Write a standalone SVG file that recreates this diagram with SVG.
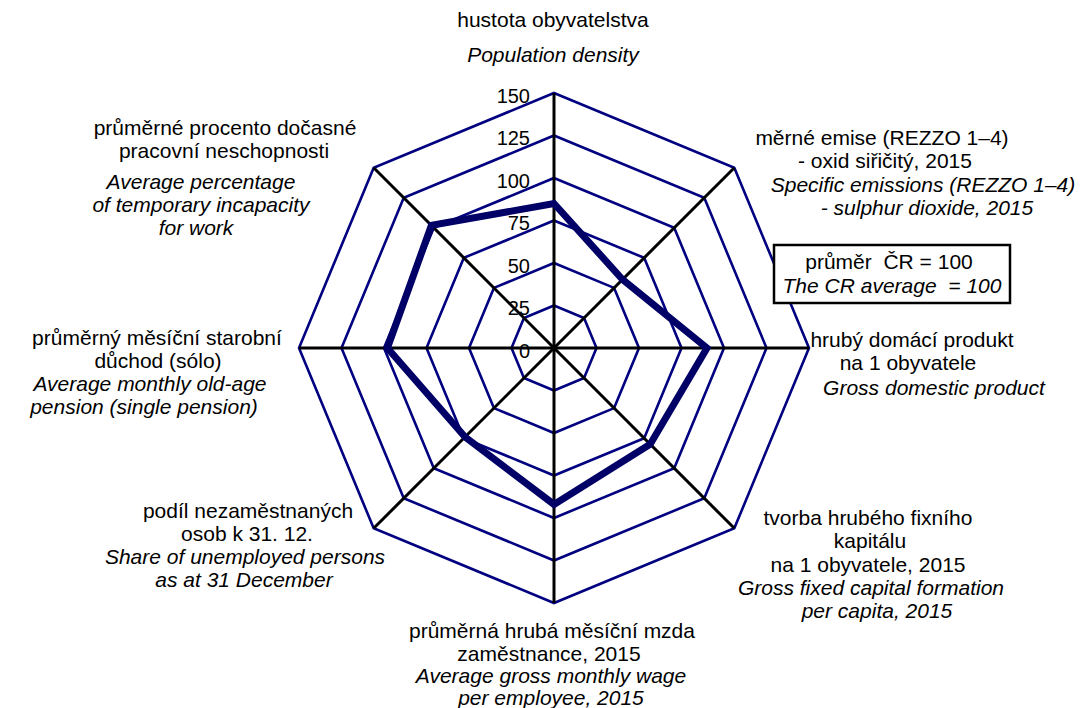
<svg xmlns="http://www.w3.org/2000/svg" width="1080" height="708" viewBox="0 0 1080 708">
<style>
.ring{fill:none;stroke:#000080;stroke-width:2.6;stroke-linejoin:miter}
.axis{stroke:#000;stroke-width:3}
.data{fill:none;stroke:#000066;stroke-width:7;stroke-linejoin:miter}
text{font-family:"Liberation Sans",Arial,sans-serif;font-size:21px;fill:#000;white-space:pre}
.i{font-style:italic}
.tick{font-size:20px;text-anchor:end}
.c{text-anchor:middle}
</style>
<rect width="1080" height="708" fill="#fff"/>
<g id="grid" transform="translate(554,348)">
<polygon class="ring" points="0,-42.5 30.05,-30.05 42.5,0 30.05,30.05 0,42.5 -30.05,30.05 -42.5,0 -30.05,-30.05"/>
<polygon class="ring" points="0,-85 60.1,-60.1 85,0 60.1,60.1 0,85 -60.1,60.1 -85,0 -60.1,-60.1"/>
<polygon class="ring" points="0,-127.5 90.16,-90.16 127.5,0 90.16,90.16 0,127.5 -90.16,90.16 -127.5,0 -90.16,-90.16"/>
<polygon class="ring" points="0,-170 120.21,-120.21 170,0 120.21,120.21 0,170 -120.21,120.21 -170,0 -120.21,-120.21"/>
<polygon class="ring" points="0,-212.5 150.26,-150.26 212.5,0 150.26,150.26 0,212.5 -150.26,150.26 -212.5,0 -150.26,-150.26"/>
<polygon class="ring" points="0,-255 180.31,-180.31 255,0 180.31,180.31 0,255 -180.31,180.31 -255,0 -180.31,-180.31"/>
</g>
<g id="axes" transform="translate(554,348)">
<line class="axis" x1="0" y1="0" x2="0" y2="-255"/>
<line class="axis" x1="0" y1="0" x2="180.31" y2="-180.31"/>
<line class="axis" x1="0" y1="0" x2="255" y2="0"/>
<line class="axis" x1="0" y1="0" x2="180.31" y2="180.31"/>
<line class="axis" x1="0" y1="0" x2="0" y2="255"/>
<line class="axis" x1="0" y1="0" x2="-180.31" y2="180.31"/>
<line class="axis" x1="0" y1="0" x2="-255" y2="0"/>
<line class="axis" x1="0" y1="0" x2="-180.31" y2="-180.31"/>
</g>
<g id="series" transform="translate(554,348)">
<polygon class="data" points="0,-144.5 68.52,-68.52 153,0 96.17,96.17 0,156.4 -88.95,88.95 -166.6,0 -122.61,-122.61"/>
</g>
<g id="ticks">
<text class="tick" x="530" y="102.5">150</text>
<text class="tick" x="530" y="145">125</text>
<text class="tick" x="530" y="187.5">100</text>
<text class="tick" x="530" y="230">75</text>
<text class="tick" x="530" y="272.5">50</text>
<text class="tick" x="530" y="315">25</text>
<text class="tick" x="530" y="357.5">0</text>
</g>
<g id="label-top">
<text class="c" x="553" y="27">hustota obyvatelstva</text>
<text class="c i" x="553" y="62">Population density</text>
</g>
<g id="label-ne">
<text class="c" x="882" y="145">měrné emise (REZZO 1–4)</text>
<text class="c" x="885" y="168">- oxid siřičitý, 2015</text>
<text class="c i" x="923" y="192">Specific emissions (REZZO 1–4)</text>
<text class="c i" x="927" y="215">- sulphur dioxide, 2015</text>
</g>
<g id="legend-box">
<rect x="774" y="245" width="236" height="58" fill="#fff" stroke="#000" stroke-width="2.5"/>
<text class="c" x="889" y="269">průměr  ČR = 100</text>
<text class="c i" x="892" y="293">The CR average  = 100</text>
</g>
<g id="label-e">
<text class="c" x="912" y="347">hrubý domácí produkt</text>
<text class="c" x="908" y="370">na 1 obyvatele</text>
<text class="c i" x="934" y="395">Gross domestic product</text>
</g>
<g id="label-se">
<text class="c" x="868" y="525">tvorba hrubého fixního</text>
<text class="c" x="870" y="548">kapitálu</text>
<text class="c" x="868" y="572">na 1 obyvatele, 2015</text>
<text class="c i" x="871" y="595">Gross fixed capital formation</text>
<text class="c i" x="877" y="618">per capita, 2015</text>
</g>
<g id="label-s">
<text class="c" x="552" y="638">průměrná hrubá měsíční mzda</text>
<text class="c" x="549" y="661">zaměstnance, 2015</text>
<text class="c i" x="551" y="683">Average gross monthly wage</text>
<text class="c i" x="551" y="705">per employee, 2015</text>
</g>
<g id="label-sw">
<text class="c" x="248" y="518">podíl nezaměstnaných</text>
<text class="c" x="247" y="541">osob k 31. 12.</text>
<text class="c i" x="245" y="564">Share of unemployed persons</text>
<text class="c i" x="244" y="587">as at 31 December</text>
</g>
<g id="label-w">
<text class="c" x="157" y="345">průměrný měsíční starobní</text>
<text class="c" x="158" y="368">důchod (sólo)</text>
<text class="c i" x="150" y="391">Average monthly old-age</text>
<text class="c i" x="144" y="414">pension (single pension)</text>
</g>
<g id="label-nw">
<text class="c" x="225" y="135">průměrné procento dočasné</text>
<text class="c" x="224" y="158">pracovní neschopnosti</text>
<text class="c i" x="201" y="189">Average percentage</text>
<text class="c i" x="201" y="212">of temporary incapacity</text>
<text class="c i" x="196" y="235">for work</text>
</g>
</svg>
